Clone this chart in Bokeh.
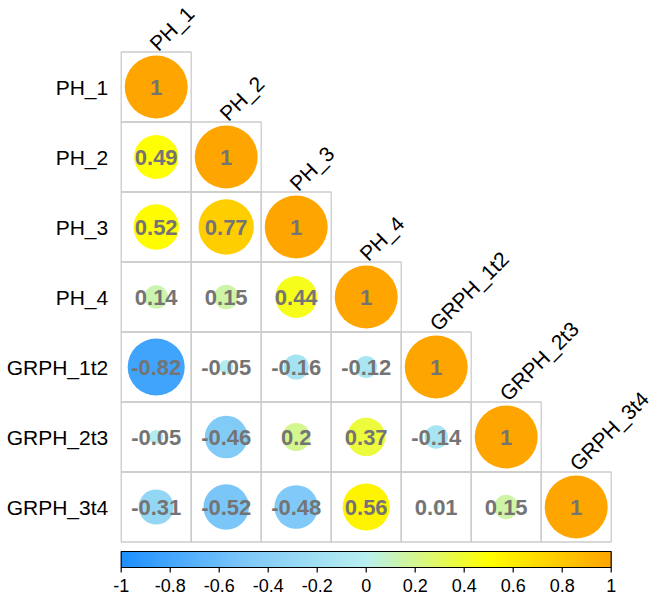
import numpy as np
from bokeh.plotting import figure
from bokeh.models import ColumnDataSource, LinearColorMapper, Range1d
from bokeh.transform import linear_cmap
from bokeh.core.properties import value
from bokeh.embed import file_html
from bokeh.resources import INLINE

# ---------------- data ----------------
variables = ["PH_1", "PH_2", "PH_3", "PH_4", "GRPH_1t2", "GRPH_2t3", "GRPH_3t4"]
row_PH_1 = [1]
row_PH_2 = [0.49, 1]
row_PH_3 = [0.52, 0.77, 1]
row_PH_4 = [0.14, 0.15, 0.44, 1]
row_GRPH_1t2 = [-0.82, -0.05, -0.16, -0.12, 1]
row_GRPH_2t3 = [-0.05, -0.46, 0.2, 0.37, -0.14, 1]
row_GRPH_3t4 = [-0.31, -0.52, -0.48, 0.56, 0.01, 0.15, 1]
rows = [row_PH_1, row_PH_2, row_PH_3, row_PH_4, row_GRPH_1t2, row_GRPH_2t3, row_GRPH_3t4]
colorbar_ticks = [-1, -0.8, -0.6, -0.4, -0.2, 0, 0.2, 0.4, 0.6, 0.8, 1]
colorbar_tick_labels = ["-1", "-0.8", "-0.6", "-0.4", "-0.2", "0", "0.2", "0.4", "0.6", "0.8", "1"]

# ---------------- palette ----------------
stop_pos = [-1.0, -0.5, 0.0, 0.5, 1.0]
stop_col = [(30, 144, 255), (126, 200, 248), (184, 240, 240), (255, 255, 0), (255, 165, 0)]
grid_v = np.linspace(-1, 1, 256)
palette = []
for v in grid_v:
    rgb = [int(round(np.interp(v, stop_pos, [c[k] for c in stop_col]))) for k in range(3)]
    palette.append("#%02x%02x%02x" % tuple(rgb))
mapper = LinearColorMapper(palette=palette, low=-1, high=1)

# ---------------- geometry ----------------
W, H = 660, 599
CW, CH = 70.0, 70.0          # pixels per cell
GX, GY = 120.7, 51.5         # grid top-left in pixels
n = len(variables)
x0 = -0.5 - GX / CW
y1 = (n - 0.5) + GY / CH
px = 1.0 / CW
py = 1.0 / CH

p = figure(width=W, height=H, output_backend="svg", toolbar_location=None,
           x_range=Range1d(x0, x0 + W / CW), y_range=Range1d(y1 - H / CH, y1),
           x_axis_type=None, y_axis_type=None, min_border=0,
           outline_line_color=None, background_fill_color="white",
           border_fill_color="white")
p.xgrid.visible = False
p.ygrid.visible = False

xs, ys, vals, labels, radii = [], [], [], [], []
for i, row in enumerate(rows):
    for j, v in enumerate(row):
        xs.append(j)
        ys.append(n - 1 - i)
        vals.append(v)
        s = f"{v:.2f}".rstrip("0").rstrip(".")
        labels.append(s)
        radii.append(0.45 * np.sqrt(abs(v)))
src = ColumnDataSource(dict(x=xs, y=ys, v=vals, lab=labels, r=radii))

# cell borders
p.rect(x="x", y="y", width=1, height=1, source=src, fill_color=None,
       line_color="#cccccc", line_width=1.3)
# circles
p.circle(x="x", y="y", radius="r", radius_dimension="x", source=src,
         fill_color=linear_cmap("v", palette, -1, 1), line_color=None)
# numbers
p.text(x="x", y="y", text="lab", source=src, text_align="center",
       text_baseline="middle", text_font=value("Liberation Sans"),
       text_font_style="bold", text_font_size="22px", text_color="#747474")

# left labels
p.text(x=[-0.5 - 13 * px] * n, y=[n - 1 - i for i in range(n)], text=variables,
       text_align="right", text_baseline="middle", text_font=value("Liberation Sans"),
       text_font_size="21px", text_color="black")
# top (diagonal) labels
p.text(x=[j - 3 * px for j in range(n)], y=[n - 1 - j + 0.5 + 5 * py for j in range(n)],
       text=variables, angle=np.pi / 4, text_align="left", text_baseline="alphabetic",
       text_font=value("Liberation Sans"), text_font_size="21px", text_color="black")

# colour bar
cb_top = (n - 0.5) - (551 - GY) * py
cb_bot = (n - 0.5) - (567 - GY) * py
p.image(image=[grid_v.reshape(1, -1)], x=-0.5, y=cb_bot, dw=n, dh=cb_top - cb_bot,
        color_mapper=mapper)
p.rect(x=[(n - 1) / 2], y=[(cb_top + cb_bot) / 2], width=n, height=cb_top - cb_bot,
       fill_color=None, line_color="black", line_width=1.2)
tick_x = [-0.5 + (t + 1) / 2 * n for t in colorbar_ticks]
p.segment(x0=tick_x, y0=[cb_bot] * len(tick_x), x1=tick_x, y1=[cb_bot - 5 * py] * len(tick_x),
          line_color="black", line_width=1.2)
p.text(x=tick_x, y=[cb_bot - 18 * py] * len(tick_x), text=colorbar_tick_labels,
       text_align="center", text_baseline="middle", text_font=value("Liberation Sans"),
       text_font_size="18px", text_color="black")

open("out.html", "w").write(file_html(p, INLINE))
